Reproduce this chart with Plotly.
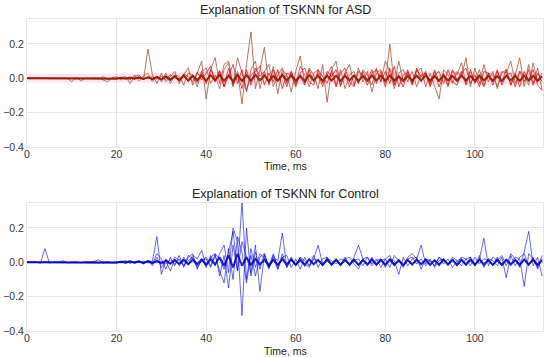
import plotly.graph_objects as go

# ---------------- data ----------------
time_ms = list(range(116))

asd_brown_1 = [
    0, 0, 0, 0.003, 0, -0.002, 0, 0.002, 0, 0,
    -0.02, 0.005, -0.015, 0, 0, 0, 0.003, -0.01, -0.02, 0.005,
    0, 0.004, 0.01, -0.03, 0.01, 0.02, -0.01, 0.17, 0.02, -0.03,
    0.03, -0.02, 0.01, 0.04, -0.03, 0.02, 0.06, -0.04, 0.03, 0.1,
    -0.12, 0.05, 0.12, -0.03, 0.08, 0.1, -0.05, 0.04, -0.15, 0.08,
    0.27, -0.06, 0.05, 0.18, -0.04, 0.07, -0.09, 0.05, 0.02, -0.08,
    0.04, 0.13, -0.03, 0.06, 0.02, -0.06, 0.08, -0.14, 0.05, 0.1,
    -0.05, 0.03, 0.08, -0.04, 0.06, -0.02, 0.04, -0.08, 0.03, 0.05,
    -0.03, 0.2, -0.04, 0.1, -0.02, 0.05, -0.03, 0.04, 0.06, -0.05,
    0.03, -0.04, -0.12, 0.05, 0.02, -0.03, 0.04, 0.01, 0.12, -0.05,
    0.06, -0.03, 0.08, -0.02, 0.04, -0.06, 0.03, 0.05, -0.04, 0.02,
    0.12, -0.05, 0.08, -0.03, 0.06, -0.07,
]
asd_brown_2 = [
    0, 0, 0, 0, 0, 0, 0.002, 0, 0, 0,
    0, 0, 0, 0, 0, 0, -0.003, 0.01, -0.005, 0,
    0.01, -0.01, 0.005, -0.01, 0.02, -0.015, 0.01, 0.03, -0.02, 0.01,
    -0.02, 0.03, -0.03, 0.02, 0.01, -0.04, 0.03, 0.02, -0.05, 0.04,
    0.06, -0.03, 0.02, -0.06, 0.05, 0.09, -0.04, 0.12, 0.03, -0.08,
    0.05, 0.1, -0.06, 0.04, 0.08, -0.05, 0.02, 0.06, -0.03, 0.04,
    -0.04, 0.07, 0.02, -0.05, 0.03, 0.05, -0.03, 0.02, 0.07, -0.04,
    0.05, -0.06, 0.02, 0.04, -0.03, 0.05, 0.02, -0.04, 0.06, -0.02,
    0.1, 0.04, -0.06, 0.03, 0.05, -0.02, 0.04, -0.05, 0.02, 0.03,
    -0.04, 0.05, -0.02, 0.03, -0.05, 0.04, 0.02, 0.09, -0.03, 0.04,
    -0.02, 0.05, -0.04, 0.03, 0.02, -0.05, 0.04, 0.03, 0.1, -0.03,
    0.04, 0.02, -0.04, 0.09, -0.02, 0.03,
]
asd_red_1 = [
    0, 0, 0, 0, 0, 0, 0, 0, 0, 0,
    0, 0, 0, 0, 0, 0, 0, 0, 0, 0,
    0, 0.002, -0.002, 0.004, -0.004, 0.006, -0.005, 0.008, -0.006, 0.01,
    -0.01, 0.015, -0.012, 0.02, -0.008, 0.025, -0.02, 0.01, -0.025, 0.04,
    -0.03, 0.05, -0.01, 0.045, -0.05, 0.06, -0.035, 0.02, -0.06, 0.05,
    -0.04, 0.06, 0.01, 0.04, -0.03, 0.05, -0.01, 0.03, -0.05, 0.04,
    -0.03, 0.01, -0.04, 0.05, -0.02, 0.03, -0.05, 0.04, 0.01, 0.05,
    -0.04, 0.03, -0.05, 0.02, -0.03, 0.04, -0.01, 0.05, -0.03, 0.04,
    -0.05, 0.06, -0.04, 0.01, -0.05, 0.04, -0.03, 0.05, 0.01, 0.03,
    -0.03, 0.04, -0.05, 0.02, -0.04, 0.05, -0.01, 0.04, -0.04, 0.05,
    -0.03, 0.01, -0.05, 0.03, -0.04, 0.04, -0.02, 0.05, -0.04, 0.03,
    -0.05, 0.04, -0.01, 0.05, -0.04, -0.07,
]
asd_red_2 = [
    0, 0, 0, 0, 0, 0, 0, 0, 0, 0,
    0, 0, 0, 0, 0, 0, 0, 0, 0, 0,
    0, 0.003, 0, -0.004, 0.005, 0, -0.006, 0.004, 0.008, -0.005,
    0.012, -0.008, 0.02, 0.005, -0.018, 0.025, 0.01, -0.02, 0.035, -0.01,
    0.03, 0.07, -0.02, 0.04, -0.05, 0.02, 0.08, -0.03, 0.05, -0.07,
    0.02, 0.04, 0.07, -0.04, 0.03, -0.02, 0.05, -0.06, 0.03, 0.02,
    -0.05, 0.03, 0.06, -0.02, -0.04, 0.05, 0.01, -0.03, 0.04, -0.05,
    0.03, 0.06, -0.02, -0.05, 0.04, 0.02, -0.04, 0.03, 0.05, -0.02,
    0.04, -0.03, 0.07, -0.05, 0.02, 0.03, -0.04, 0.06, -0.02, 0.04,
    -0.05, 0.02, 0.04, -0.03, 0.05, -0.02, -0.04, 0.03, 0.06, -0.03,
    0.02, -0.05, 0.04, 0.03, -0.02, 0.05, -0.04, 0.02, 0.03, -0.05,
    0.04, -0.02, 0.05, -0.04, 0.03, -0.02,
]
asd_dark = [
    0, 0, 0.001, 0, -0.001, 0, 0.001, 0, -0.001, 0,
    0.001, 0, -0.001, 0, 0.001, 0, -0.001, 0, 0.001, 0,
    -0.002, 0.003, -0.002, 0.004, -0.003, 0.005, -0.004, 0.006, -0.005, 0.008,
    -0.006, 0.01, -0.008, 0.012, -0.01, 0.014, -0.012, 0.015, -0.01, 0.016,
    -0.014, 0.018, -0.012, 0.02, -0.015, 0.016, -0.018, 0.02, -0.016, 0.018,
    -0.015, 0.02, -0.012, 0.016, -0.018, 0.014, -0.015, 0.018, -0.012, 0.016,
    -0.014, 0.015, -0.016, 0.018, -0.012, 0.014, -0.015, 0.016, -0.013, 0.015,
    -0.016, 0.014, -0.012, 0.016, -0.015, 0.013, -0.014, 0.016, -0.012, 0.015,
    -0.014, 0.016, -0.015, 0.012, -0.016, 0.014, -0.013, 0.015, -0.012, 0.016,
    -0.014, 0.013, -0.015, 0.016, -0.012, 0.014, -0.016, 0.015, -0.013, 0.014,
    -0.015, 0.016, -0.012, 0.014, -0.015, 0.013, -0.016, 0.015, -0.012, 0.014,
    -0.015, 0.016, -0.013, 0.015, -0.014, 0.012,
]
asd_band_x = [0, 25, 35, 115]
asd_band_upper = [0.025, 0.025, 0.04, 0.04]
asd_band_lower = [-0.025, -0.025, -0.035, -0.035]

ctl_blue_1 = [
    0, 0, 0.003, -0.005, 0.08, -0.005, 0.003, 0, 0.01, -0.003,
    0, 0.004, -0.002, 0, 0.003, 0.005, 0.015, -0.004, 0.003, 0,
    -0.003, 0.005, 0.01, -0.006, 0.004, 0.008, -0.004, 0.01, 0.005, 0.15,
    -0.07, 0.02, -0.01, 0.03, 0.01, -0.02, 0.04, 0.02, -0.03, 0.01,
    0.03, -0.02, 0.05, 0.02, -0.04, 0.06, 0.18, -0.05, 0.35, -0.1,
    0.08, -0.03, 0.05, 0.02, -0.04, 0.03, 0.01, 0.17, -0.03, 0.02,
    -0.02, 0.03, 0.01, -0.02, 0.02, 0.1, -0.01, 0.02, 0.01, -0.01,
    0.02, 0.01, -0.02, 0.03, 0.1, 0.02, -0.01, 0.03, -0.02, 0.01,
    0.02, -0.03, 0.04, 0.01, -0.02, 0.03, 0.05, 0.02, 0.1, -0.01,
    0.02, -0.03, 0.01, 0.02, -0.01, 0.03, 0.01, -0.02, 0.02, 0.03,
    -0.01, 0.02, 0.14, -0.02, 0.03, 0.01, 0.04, -0.02, 0.05, 0.02,
    -0.03, 0.06, 0.18, -0.02, 0.03, -0.08,
]
ctl_blue_2 = [
    0, 0.002, 0, -0.003, 0.002, 0, -0.002, 0.003, 0, 0,
    0.002, 0, -0.002, 0.003, 0, 0.002, -0.002, 0, 0.003, -0.002,
    0.004, -0.003, 0.005, 0.01, -0.005, 0.008, -0.01, 0.012, -0.008, 0.05,
    0.02, -0.04, 0.03, -0.02, 0.04, -0.03, 0.03, 0.05, -0.04, 0.02,
    -0.03, 0.04, -0.02, 0.05, 0.1, -0.06, 0.2, 0.12, -0.31, 0.2,
    -0.08, 0.06, -0.04, 0.05, -0.03, 0.04, -0.02, 0.03, -0.03, 0.02,
    -0.02, 0.03, -0.01, -0.03, 0.02, 0.01, -0.02, 0.03, -0.01, 0.02,
    -0.01, 0.03, -0.02, 0.01, 0.02, -0.02, 0.03, -0.01, 0.02, -0.03,
    0.02, 0.04, -0.02, 0.01, -0.03, 0.02, 0.03, -0.01, 0.02, -0.02,
    0.01, -0.02, 0.03, 0.01, -0.02, 0.02, -0.01, 0.03, 0.02, -0.02,
    0.03, -0.01, 0.02, 0.01, -0.02, 0.03, -0.02, 0.02, -0.01, 0.03,
    0.02, -0.14, 0.05, 0.02, -0.03, 0.04,
]
ctl_blue_3 = [
    0, 0, 0.001, 0, -0.002, 0, 0.002, 0, -0.001, 0,
    0.002, 0, -0.001, 0, 0.001, 0, -0.002, 0.003, 0, -0.002,
    0, 0.003, -0.004, 0.006, -0.003, 0.008, -0.006, 0.01, -0.02, 0.03,
    -0.03, 0.01, -0.05, 0.02, -0.02, 0.03, -0.01, 0.04, 0.02, 0.07,
    -0.02, 0.03, 0.05, -0.08, 0.04, -0.15, 0.1, -0.05, 0.12, 0.03,
    -0.06, 0.1, -0.17, 0.04, -0.02, 0.05, -0.04, 0.03, 0.04, -0.03,
    0.02, -0.04, 0.03, -0.02, 0.04, -0.03, 0.02, 0.03, -0.02, 0.01,
    -0.02, 0.02, 0.03, -0.01, -0.04, 0.02, 0.03, -0.02, 0.01, 0.02,
    -0.03, 0.02, 0.01, -0.07, 0.03, -0.02, 0.02, 0.03, -0.04, 0.02,
    0.01, -0.02, 0.03, -0.01, 0.02, -0.03, 0.01, 0.02, -0.02, 0.03,
    -0.02, 0.04, -0.03, 0.02, 0.01, -0.02, 0.03, -0.09, 0.04, -0.02,
    0.03, 0.05, -0.02, 0.03, -0.04, 0.02,
]
ctl_blue_4 = [
    0, 0.001, 0, -0.001, 0, 0.002, 0, -0.001, 0, 0.001,
    0, -0.002, 0, 0.001, 0, -0.001, 0.002, 0, -0.001, 0,
    0.002, -0.002, 0.003, -0.003, 0.004, -0.002, 0.005, -0.004, 0.004, -0.003,
    0.005, -0.01, 0.015, -0.01, 0.02, -0.02, 0.01, 0.03, -0.02, 0.01,
    0.02, -0.03, 0.04, -0.05, -0.12, 0.08, -0.1, 0.15, 0.06, -0.12,
    0.04, -0.08, 0.03, 0.05, -0.03, 0.02, -0.04, 0.05, -0.02, 0.03,
    -0.02, 0.01, -0.015, 0.02, -0.01, 0.015, -0.02, 0.01, -0.015, 0.02,
    -0.01, 0.015, -0.02, 0.01, -0.015, 0.02, -0.01, 0.015, -0.02, 0.01,
    -0.015, 0.02, -0.01, 0.015, -0.02, 0.01, -0.015, 0.02, -0.01, 0.015,
    -0.02, 0.01, -0.015, 0.02, -0.01, 0.015, -0.02, 0.01, -0.015, 0.02,
    -0.01, 0.015, -0.02, 0.01, -0.015, 0.02, -0.01, 0.015, -0.02, 0.01,
    -0.015, 0.02, -0.01, 0.015, -0.02, 0.01,
]
ctl_blue_5 = [
    0, 0, 0.001, 0, -0.001, 0, 0.001, 0, -0.001, 0,
    0.001, 0, -0.001, 0, 0.001, 0, -0.001, 0, 0.001, 0,
    -0.002, 0.003, -0.002, 0.004, -0.003, 0.005, -0.004, 0.006, -0.005, 0.008,
    -0.006, 0.01, -0.008, 0.012, -0.01, 0.014, -0.012, 0.015, -0.01, 0.016,
    -0.014, 0.018, -0.012, 0.03, -0.02, 0.04, -0.03, 0.05, -0.02, 0.03,
    -0.015, 0.02, -0.012, 0.016, -0.018, 0.014, -0.015, 0.018, -0.012, 0.016,
    -0.014, 0.015, -0.016, 0.018, -0.012, 0.014, -0.015, 0.016, -0.013, 0.015,
    -0.016, 0.014, -0.012, 0.016, -0.015, 0.013, -0.014, 0.016, -0.012, 0.015,
    -0.014, 0.016, -0.015, 0.012, -0.016, 0.014, -0.013, 0.015, -0.012, 0.016,
    -0.014, 0.013, -0.015, 0.016, -0.012, 0.014, -0.016, 0.015, -0.013, 0.014,
    -0.015, 0.016, -0.012, 0.014, -0.015, 0.013, -0.016, 0.015, -0.012, 0.014,
    -0.015, 0.016, -0.013, 0.015, -0.014, 0.012,
]

asd_series = [
    (asd_brown_2, "rgba(160,82,45,0.75)", 1),
    (asd_brown_1, "rgba(165,85,50,0.8)", 1),
    (asd_red_1, "rgba(255,0,0,0.75)", 1),
    (asd_red_2, "rgba(240,0,0,0.75)", 1),
    (asd_dark, "rgba(150,30,0,0.95)", 2),
]
ctl_series = [
    (ctl_blue_1, "rgba(0,0,255,0.6)", 1),
    (ctl_blue_2, "rgba(0,0,255,0.6)", 1),
    (ctl_blue_3, "rgba(0,0,255,0.6)", 1),
    (ctl_blue_4, "rgba(0,0,255,0.6)", 1),
    (ctl_blue_5, "rgba(0,0,200,0.85)", 2),
]

titles = ["Explanation of TSKNN for ASD", "Explanation of TSKNN for Control"]
x_title = "Time, ms"
y_ticks = [-0.4, -0.2, 0.0, 0.2]
x_ticks = [0, 20, 40, 60, 80, 100]

# ---------------- figure ----------------
fig = go.Figure()

fig.add_trace(go.Scatter(x=asd_band_x, y=asd_band_lower, mode="lines",
                         line=dict(width=0), hoverinfo="skip", showlegend=False,
                         xaxis="x", yaxis="y"))
fig.add_trace(go.Scatter(x=asd_band_x, y=asd_band_upper, mode="lines",
                         line=dict(width=0), fill="tonexty",
                         fillcolor="rgba(255,0,170,0.10)", hoverinfo="skip",
                         showlegend=False, xaxis="x", yaxis="y"))

for ys, col, w in asd_series:
    fig.add_trace(go.Scatter(x=time_ms, y=ys, mode="lines",
                             line=dict(color=col, width=w),
                             showlegend=False, xaxis="x", yaxis="y"))
for ys, col, w in ctl_series:
    fig.add_trace(go.Scatter(x=time_ms, y=ys, mode="lines",
                             line=dict(color=col, width=w),
                             showlegend=False, xaxis="x2", yaxis="y2"))

font = "Liberation Sans, Arial, sans-serif"
xcommon = dict(range=[0, 115.2], tickvals=x_ticks, showgrid=True,
               gridcolor="#e6e6e6", zeroline=False, showline=True,
               linecolor="#e6e6e6", mirror=True, ticks="", ticklen=0,
               automargin=False, ticklabelstandoff=-3,
               tickfont=dict(size=10.5, color="#333333"))
ycommon = dict(range=[-0.4, 0.345], tickvals=y_ticks, tickformat=".1f",
               showgrid=True, gridcolor="#e6e6e6", zeroline=False,
               showline=True, linecolor="#e6e6e6", mirror=True, ticks="",
               automargin=False,
               tickfont=dict(size=10.5, color="#333333"))

ann = []
for t, ytop in zip(titles, [1.0, 0.41]):
    ann.append(dict(text=t, x=0.5, y=ytop, xref="paper", yref="paper",
                    xanchor="center", yanchor="bottom", yshift=0, showarrow=False,
                    font=dict(size=12.5, color="#222222")))
for ymid in [0.5304, -0.0625]:
    ann.append(dict(text=x_title, x=0.5, y=ymid, xref="paper", yref="paper",
                    xanchor="center", yanchor="middle", showarrow=False,
                    borderpad=0,
                    font=dict(size=10.5, color="#222222")))

fig.update_layout(
    width=550, height=357,
    margin=dict(l=27, r=7, t=19, b=26),
    paper_bgcolor="white", plot_bgcolor="white",
    font=dict(family=font, color="#333333"),
    xaxis=dict(domain=[0, 1], anchor="y", **xcommon),
    yaxis=dict(domain=[0.5897, 1.0], anchor="x", **ycommon),
    xaxis2=dict(domain=[0, 1], anchor="y2", **xcommon),
    yaxis2=dict(domain=[0, 0.41], anchor="x2", **ycommon),
    annotations=ann,
)

fig.write_html("out.html", config={"displayModeBar": False},
               post_script="document.body.style.margin='0px';document.body.style.overflow='hidden';")
